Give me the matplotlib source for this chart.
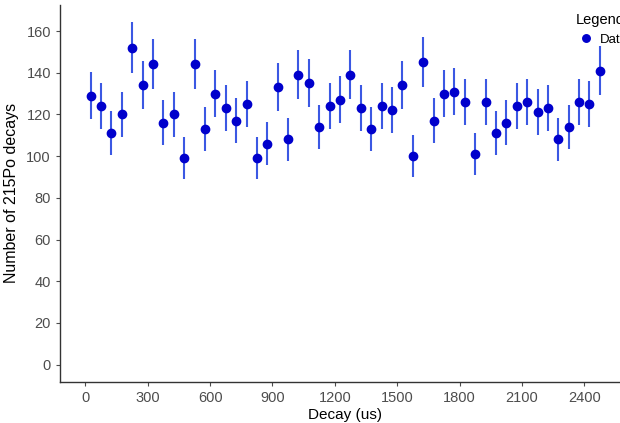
import numpy as np
import matplotlib
matplotlib.use('Agg')
import matplotlib.pyplot as plt

# bin centres (us) and counts
decay_us = [25, 75, 125, 175, 225, 275, 325, 375, 425, 475,
            525, 575, 625, 675, 725, 775, 825, 875, 925, 975,
            1025, 1075, 1125, 1175, 1225, 1275, 1325, 1375, 1425, 1475,
            1525, 1575, 1625, 1675, 1725, 1775, 1825, 1875, 1925, 1975,
            2025, 2075, 2125, 2175, 2225, 2275, 2325, 2375, 2425, 2475]
counts = [129, 124, 111, 120, 152, 134, 144, 116, 120, 99,
          144, 113, 130, 123, 117, 125, 99, 106, 133, 108,
          139, 135, 114, 124, 127, 139, 123, 113, 124, 122,
          134, 100, 145, 117, 130, 131, 126, 101, 126, 111,
          116, 124, 126, 121, 123, 108, 114, 126, 125, 141]
x_ticks = [0, 300, 600, 900, 1200, 1500, 1800, 2100, 2400]
y_ticks = [0, 20, 40, 60, 80, 100, 120, 140, 160]

plt.rcParams['font.family'] = ['Liberation Sans', 'DejaVu Sans']

x = np.array(decay_us)
y = np.array(counts)
yerr = np.sqrt(y)

fig = plt.figure(figsize=(6.2, 4.23), dpi=100)
# panel runs past the right edge, as in the reference crop
ax = fig.add_axes([60 / 620, 41.3 / 423, 570.5 / 620, 376.7 / 423])

ax.errorbar(x, y, yerr=yerr, fmt='none', ecolor='#3b58e3', elinewidth=1.5,
            capsize=0, zorder=2)
ax.plot(x, y, 'o', color='#0000cc', markersize=6, label='Data', zorder=3)

ax.set_xlim(-122.25, 2622.25)
ax.set_ylim(-8.2, 172.5)
ax.set_xticks(x_ticks)
ax.set_yticks(y_ticks)
ax.tick_params(colors='#4d4d4d', labelsize=10.5, length=3, width=0.8,
               labelcolor='#4d4d4d')

for side in ['top', 'right']:
    ax.spines[side].set_visible(False)
for side in ['left', 'bottom']:
    ax.spines[side].set_color('#333333')
    ax.spines[side].set_linewidth(1.0)

ax.set_xlabel('Decay (us)', fontsize=11, color='black', labelpad=2)
ax.set_ylabel('Number of 215Po decays', fontsize=11.5, color='black', labelpad=5)

# legend sits at the top right and is cut by the image edge, as in the reference
leg = fig.legend(loc='upper left', bbox_to_anchor=(567 / 620, 1 - 4 / 423),
                 title='Legend', frameon=False, fontsize=9.5,
                 title_fontsize=10.5, handletextpad=0.3, borderpad=0.2,
                 handlelength=1.5, markerscale=0.9)
leg._legend_box.align = 'left'

fig.savefig('out.png', dpi=100)
